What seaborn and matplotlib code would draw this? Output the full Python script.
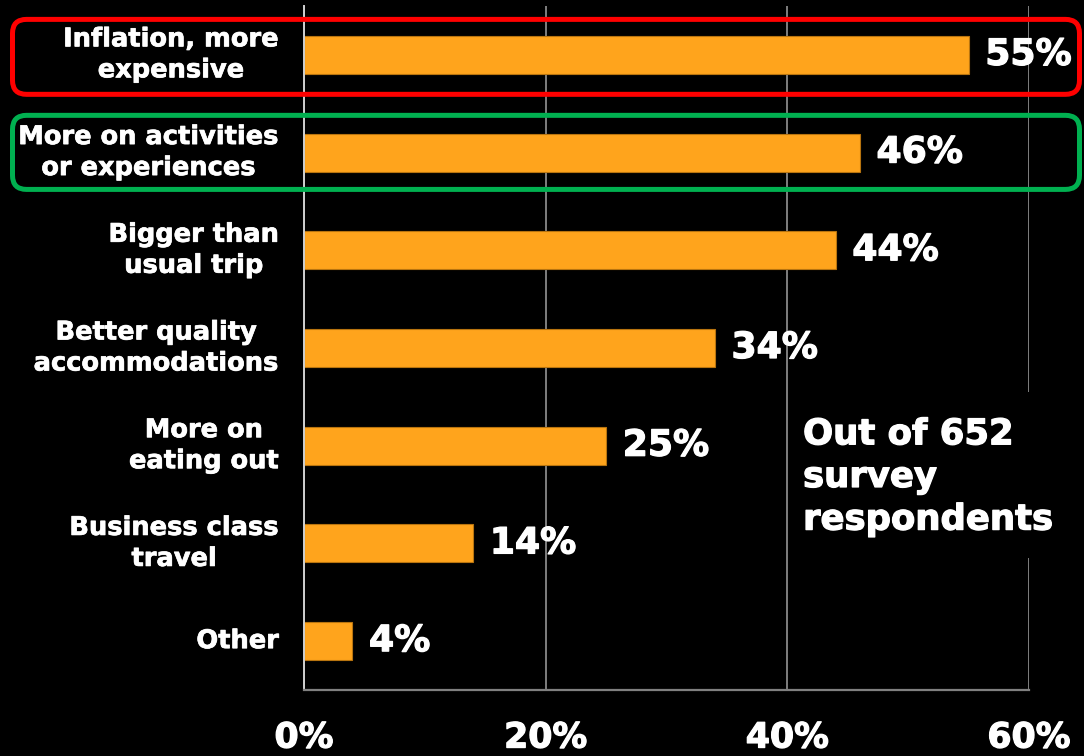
import matplotlib
matplotlib.use("Agg")
import matplotlib.pyplot as plt
import matplotlib.patheffects as pe
from matplotlib.patches import FancyBboxPatch, Rectangle
from matplotlib.transforms import IdentityTransform
import pandas as pd
import seaborn as sns

# Survey answers: how travellers expect to spend more
categories = [
    "Inflation, more\nexpensive",
    "More on activities\nor experiences",
    "Bigger than\nusual trip",
    "Better quality\naccommodations",
    "More on\neating out",
    "Business class\ntravel",
    "Other",
]
shares = [55, 46, 44, 34, 25, 14, 4]
x_ticks = [0, 20, 40, 60]
x_tick_labels = ["0%", "20%", "40%", "60%"]
note_text = "Out of 652\nsurvey\nrespondents"

df = pd.DataFrame({"category": categories, "share": shares})

sns.set_style("dark", {"axes.facecolor": "black", "figure.facecolor": "black"})
plt.rcParams["font.family"] = ["DejaVu Sans"]
plt.rcParams["font.weight"] = "bold"

W, H, DPI = 1084, 756, 100
fig = plt.figure(figsize=(W / DPI, H / DPI), dpi=DPI, facecolor="black")
ax = fig.add_axes([304 / W, 1 - 690 / H, (1029 - 304) / W, (690 - 6) / H])
ax.set_facecolor("black")

sns.barplot(data=df, y="category", x="share", orient="h", ax=ax,
            color="#FFA41C", saturation=1, width=0.39,
            edgecolor="#B8740F", linewidth=0.8, zorder=2)

ax.set_xlim(0, 60)
ax.set_ylim(len(categories) - 0.5, -0.5)
ax.set_xlabel("")
ax.set_ylabel("")

heavy = [pe.withStroke(linewidth=0.9, foreground="white")]
light = [pe.withStroke(linewidth=0.5, foreground="white")]

# grid and spines
ax.set_axisbelow(True)
ax.xaxis.grid(True, color="#7F7F7F", linewidth=1.4, zorder=0.5)
ax.yaxis.grid(False)
for side in ("top", "right"):
    ax.spines[side].set_visible(False)
ax.spines["left"].set_color("#D0D0D0")
ax.spines["left"].set_linewidth(1.4)
ax.spines["bottom"].set_color("#808080")
ax.spines["bottom"].set_linewidth(1.6)

ax.set_xticks(x_ticks)
ax.set_xticklabels(x_tick_labels, fontsize=25, fontweight="bold", color="white")
ax.tick_params(axis="x", length=0, pad=22)
ax.tick_params(axis="y", length=0, pad=18)
for lbl in ax.get_xticklabels():
    lbl.set_path_effects(heavy)
for lbl in ax.get_yticklabels():
    lbl.set_fontsize(18.5)
    lbl.set_fontweight("bold")
    lbl.set_color("white")
    lbl.set_multialignment("center")
    lbl.set_verticalalignment("center")
    lbl.set_linespacing(1.25)
    lbl.set_path_effects(light)

# value labels
for i, v in enumerate(shares):
    ax.annotate(f"{v}%", xy=(v, i), xytext=(12, 0), textcoords="offset points",
                ha="left", va="center", fontsize=26, fontweight="bold",
                color="white", zorder=4, path_effects=heavy)

# note panel on the right
ax.add_patch(Rectangle((40.4, 3.45), 22, 1.7, facecolor="black",
                       edgecolor="none", zorder=1.5, clip_on=False))
ax.text(41.3, 4.32, note_text, ha="left", va="center", fontsize=25.5,
        fontweight="bold", color="white", linespacing=1.32, zorder=3,
        path_effects=heavy)

# highlight frames around the two leading answers
fig.canvas.draw()
def frame(row, lo, hi, color):
    y_disp = ax.transData.transform([(0, row + lo), (0, row + hi)])[:, 1]
    y0, y1 = min(y_disp), max(y_disp)
    x0, x1 = 12.5, W - 4.5
    p = FancyBboxPatch((x0, y0), x1 - x0, y1 - y0,
                       boxstyle="round,pad=0,rounding_size=14",
                       transform=IdentityTransform(), facecolor="none",
                       edgecolor=color, linewidth=3.6, zorder=10)
    fig.patches.append(p)

frame(0, -0.363, 0.404, "#FF0000")
frame(1, -0.381, 0.377, "#00B050")

fig.savefig("out.png", dpi=DPI, facecolor="black")
